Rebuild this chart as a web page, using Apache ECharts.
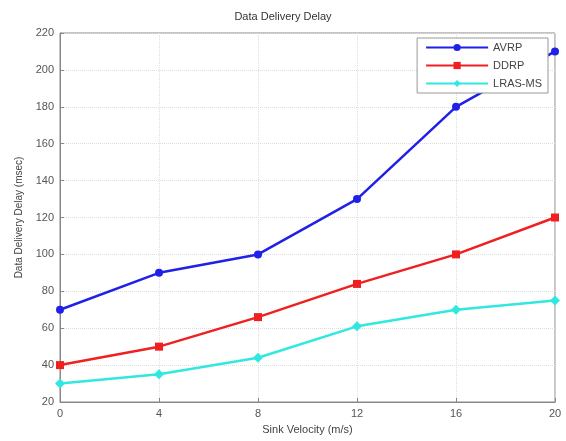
<!DOCTYPE html>
<html><head><meta charset="utf-8">
<script src="https://cdn.jsdelivr.net/npm/echarts@6/dist/echarts.min.js"></script>
<style>html,body{margin:0;padding:0;background:#fff}#c{width:566px;height:441px}</style>
</head><body><div id="c"></div>
<script>
const xValues = [0, 4, 8, 12, 16, 20];
const avrp = [70, 90, 100, 130, 180, 210];
const ddrp = [40, 50, 66, 84, 100, 120];
const lrasms = [30, 35, 44, 61, 70, 75];
const seriesNames = ['AVRP', 'DDRP', 'LRAS-MS'];

const pairs = arr => xValues.map((x, i) => [x, arr[i]]);
const chart = echarts.init(document.getElementById('c'));
const font = 'Liberation Sans, Arial, sans-serif';
chart.setOption({
  animation: false,
  backgroundColor: '#fff',
  title: { text: 'Data Delivery Delay', left: 'center', top: 6,
    textStyle: { fontSize: 11, fontWeight: 'normal', color: '#333', fontFamily: font } },
  grid: { left: 60, right: 11, top: 33, bottom: 39, show: true, borderColor: '#888', borderWidth: 1 },
  legend: {
    data: seriesNames, orient: 'vertical', right: 18, top: 38,
    borderColor: '#999', borderWidth: 1, backgroundColor: '#fff', padding: [4, 6, 4, 8],
    itemWidth: 62, itemHeight: 9, itemGap: 7,
    textStyle: { fontSize: 11, color: '#444', fontFamily: font }
  },
  xAxis: {
    type: 'value', min: 0, max: 20, interval: 4,
    name: 'Sink Velocity (m/s)', nameLocation: 'middle', nameGap: 22,
    nameTextStyle: { fontSize: 11, color: '#444', fontFamily: font },
    axisLine: { lineStyle: { color: '#888' } },
    axisTick: { inside: true, length: 4, lineStyle: { color: '#888' } },
    axisLabel: { fontSize: 11, color: '#555', margin: 6, fontFamily: font },
    splitLine: { show: true, lineStyle: { color: '#ddd', type: 'dotted' } }
  },
  yAxis: {
    type: 'value', min: 20, max: 220, interval: 20,
    name: 'Data Delivery Delay (msec)', nameLocation: 'middle', nameGap: 36,
    nameTextStyle: { fontSize: 10, color: '#444', fontFamily: font },
    axisLine: { show: true, lineStyle: { color: '#888' } },
    axisTick: { show: true, inside: true, length: 4, lineStyle: { color: '#888' } },
    axisLabel: { fontSize: 11, color: '#555', margin: 6, fontFamily: font },
    splitLine: { show: true, lineStyle: { color: '#ddd', type: 'dotted' } }
  },
  series: [
    { name: seriesNames[0], type: 'line', data: pairs(avrp), symbol: 'circle', symbolSize: 8,
      lineStyle: { color: '#2020e8', width: 2.5 }, itemStyle: { color: '#2020e8' } },
    { name: seriesNames[1], type: 'line', data: pairs(ddrp), symbol: 'rect', symbolSize: 8,
      lineStyle: { color: '#f02020', width: 2.5 }, itemStyle: { color: '#f02020' } },
    { name: seriesNames[2], type: 'line', data: pairs(lrasms), symbol: 'diamond', symbolSize: 10,
      lineStyle: { color: '#30e8e0', width: 2.5 }, itemStyle: { color: '#30e8e0' } }
  ]
});
</script></body></html>
